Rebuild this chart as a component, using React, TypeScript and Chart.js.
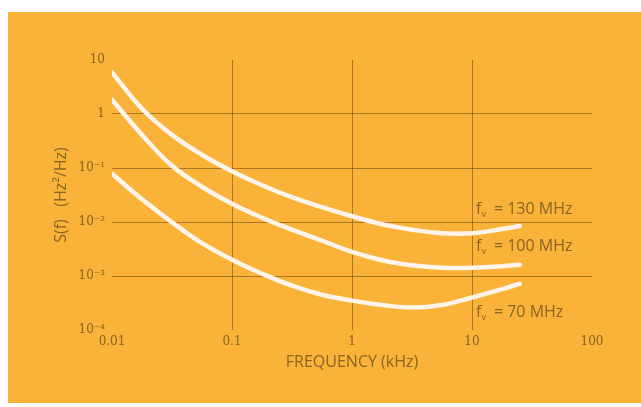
import { useEffect, useRef } from "react";
import { Chart, registerables } from "chart.js";

Chart.register(...registerables);

// Frequency in kHz (quarter-decade steps) and spectral density S(f) in Hz²/Hz per carrier
const frequencies = [0.01, 0.0178, 0.0316, 0.0562, 0.1, 0.178, 0.316, 0.562, 1, 1.78, 3.16, 5.62, 10, 17.8, 25];
const s130MHz = [5.9, 1.25, 0.41, 0.176, 0.087, 0.048, 0.0288, 0.0188, 0.0128, 0.0091, 0.0072, 0.0062, 0.0062, 0.0074, 0.0084];
const s100MHz = [1.84, 0.41, 0.11, 0.045, 0.0218, 0.012, 0.0072, 0.0045, 0.0028, 0.00196, 0.00158, 0.00142, 0.00142, 0.00152, 0.00162];
const s70MHz = [0.078, 0.0264, 0.0099, 0.00405, 0.002, 0.0011, 0.00066, 0.00045, 0.00035, 0.00029, 0.00026, 0.00029, 0.0004, 0.00057, 0.00072];

const xTicks = [0.01, 0.1, 1, 10, 100];
const xTickLabels = ["0.01", "0.1", "1", "10", "100"];
const yTicks = [1e-4, 1e-3, 1e-2, 1e-1, 1, 10];
const yTickLabels = ["10⁻⁴", "10⁻³", "10⁻²", "10⁻¹", "1", "10"];

const carrierLabels = ["130 MHz", "100 MHz", "70 MHz"];
const carrierLabelValues = [0.017, 0.0036, 0.00021];

const TEXT = "#8a6424";
const GRID = "rgba(110, 70, 20, 0.55)";
const CURVE = "#fff4ea";
const SANS = "'Open Sans', 'Liberation Sans', sans-serif";

const toPoints = (ys: number[]) => frequencies.map((x, i) => ({ x, y: ys[i] }));

// Writes "f_v = ... MHz" beside the right end of each curve
const carrierLabelPlugin = {
  id: "carrierLabels",
  afterDatasetsDraw(chart: any) {
    const { ctx, scales } = chart;
    const x0 = scales.x.getPixelForValue(10) + 4;
    ctx.save();
    ctx.fillStyle = TEXT;
    ctx.textBaseline = "middle";
    ctx.textAlign = "left";
    carrierLabels.forEach((label, i) => {
      const y = scales.y.getPixelForValue(carrierLabelValues[i]);
      ctx.font = `16px ${SANS}`;
      ctx.fillText("f", x0, y);
      const fw = ctx.measureText("f").width;
      ctx.font = `9px ${SANS}`;
      ctx.fillText("v", x0 + fw, y + 5);
      const vw = ctx.measureText("v").width;
      ctx.font = `16px ${SANS}`;
      ctx.fillText("\u2002= " + label, x0 + fw + vw, y);
    });
    ctx.restore();
  },
};

export default function App() {
  const canvasRef = useRef<HTMLCanvasElement | null>(null);

  useEffect(() => {
    const canvas = canvasRef.current;
    if (!canvas) return;
    const lineStyle = {
      borderColor: CURVE,
      borderWidth: 4.5,
      pointRadius: 0,
      tension: 0.4,
      fill: false,
      borderCapStyle: "round" as const,
    };
    const chart = new Chart(canvas, {
      type: "line",
      data: {
        datasets: [
          { label: "130 MHz", data: toPoints(s130MHz), ...lineStyle },
          { label: "100 MHz", data: toPoints(s100MHz), ...lineStyle },
          { label: "70 MHz", data: toPoints(s70MHz), ...lineStyle },
        ],
      },
      options: {
        responsive: false,
        animation: false,
        layout: { padding: { left: 0, top: 60, right: 49, bottom: 0 } },
        plugins: { legend: { display: false }, tooltip: { enabled: false } },
        scales: {
          x: {
            type: "logarithmic",
            min: 0.01,
            max: 100,
            afterBuildTicks: (scale: any) => {
              scale.ticks = xTicks.map((value) => ({ value }));
            },
            afterFit: (scale: any) => {
              scale.height = 77;
            },
            ticks: {
              autoSkip: false,
              maxRotation: 0,
              padding: 5,
              color: TEXT,
              font: { family: "'DejaVu Serif', serif", size: 12 },
              callback: (_v: any, i: number) => xTickLabels[i],
            },
            grid: {
              drawTicks: false,
              lineWidth: 1,
              color: (c: any) => (c.index === 0 || c.index === xTicks.length - 1 ? "rgba(0,0,0,0)" : GRID),
            },
            border: { display: false },
            title: {
              display: true,
              text: "FREQUENCY (kHz)",
              color: TEXT,
              font: { family: SANS, size: 16 },
              padding: { top: 0, bottom: 35 },
            },
          },
          y: {
            type: "logarithmic",
            min: 1e-4,
            max: 10,
            afterBuildTicks: (scale: any) => {
              scale.ticks = yTicks.map((value) => ({ value }));
            },
            afterFit: (scale: any) => {
              scale.width = 112;
            },
            ticks: {
              autoSkip: false,
              padding: 7,
              color: TEXT,
              font: { family: "'DejaVu Serif', serif", size: 12 },
              callback: (_v: any, i: number) => yTickLabels[i],
            },
            grid: {
              drawTicks: false,
              lineWidth: 1,
              color: (c: any) => (c.index === 0 || c.index === yTicks.length - 1 ? "rgba(0,0,0,0)" : GRID),
            },
            border: { display: false },
            title: {
              display: true,
              text: "S(f)   (Hz²/Hz)",
              color: TEXT,
              font: { family: SANS, size: 16 },
              padding: { top: 52, bottom: 0 },
            },
          },
        },
      },
      plugins: [carrierLabelPlugin],
    });
    return () => chart.destroy();
  }, []);

  return (
    <div style={{ position: "fixed", left: 0, top: 0, width: 641, height: 407, background: "#ffffff" }}>
      <div style={{ position: "absolute", left: 8, top: 12, right: 0, bottom: 4, background: "#fab238" }} />
      <canvas
        ref={canvasRef}
        width={641}
        height={407}
        style={{ position: "absolute", left: 0, top: 0, width: 641, height: 407 }}
      />
    </div>
  );
}
